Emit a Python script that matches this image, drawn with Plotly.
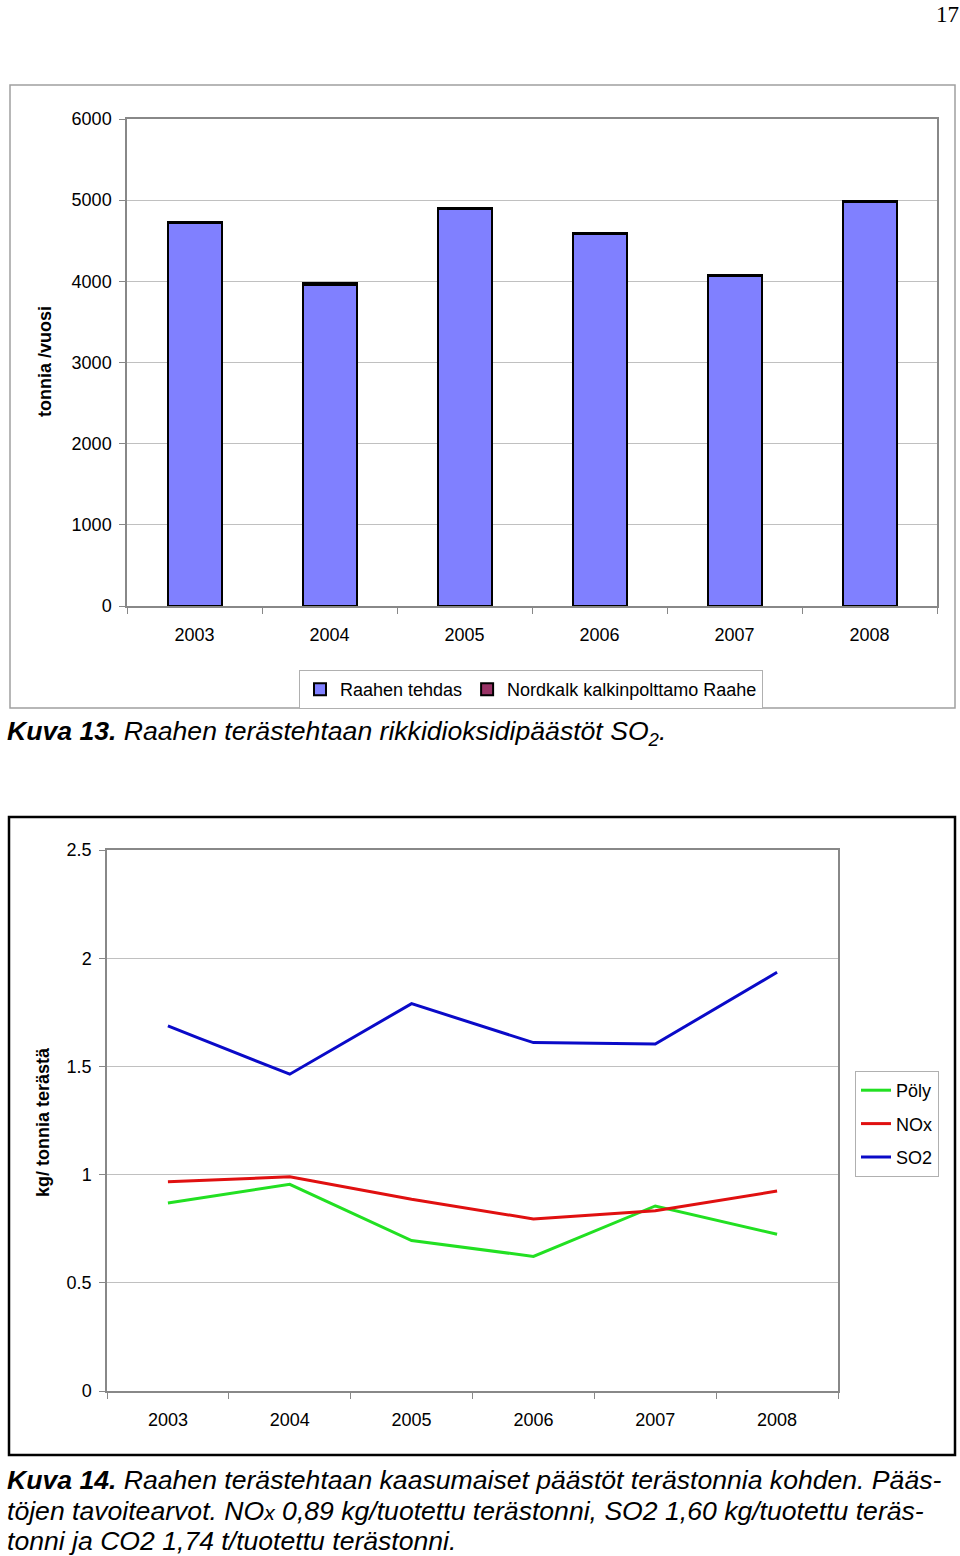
import plotly.graph_objects as go

W, H = 960, 1556

years = ["2003", "2004", "2005", "2006", "2007", "2008"]
raahen_tehdas = [4720, 3960, 4890, 4580, 4070, 4980]
nordkalk = [12, 15, 14, 13, 11, 14]

poly = [0.869, 0.955, 0.695, 0.622, 0.855, 0.724]
nox = [0.967, 0.990, 0.886, 0.795, 0.833, 0.924]
so2 = [1.687, 1.464, 1.790, 1.610, 1.603, 1.935]

FONT = "Liberation Sans, Arial, sans-serif"
NARROW = "Liberation Sans Narrow, Arial Narrow, Liberation Sans, Arial, sans-serif"


def px(x):
    return x / W


def py(y):
    return 1 - y / H


fig = go.Figure()

fig.add_trace(go.Bar(x=years, y=raahen_tehdas, name="Raahen tehdas",
                     marker=dict(color="#8080ff", line=dict(color="black", width=2)),
                     xaxis="x", yaxis="y", legend="legend"))
fig.add_trace(go.Bar(x=years, y=nordkalk, name="Nordkalk kalkinpolttamo Raahe",
                     marker=dict(color="#993366", line=dict(color="black", width=2)),
                     xaxis="x", yaxis="y", legend="legend"))

fig.add_trace(go.Scatter(x=years, y=poly, name="Pöly", mode="lines",
                         line=dict(color="#22e022", width=3), xaxis="x2", yaxis="y2",
                         legend="legend2", legendgroup="a"))
fig.add_trace(go.Scatter(x=years, y=nox, name="NOx", mode="lines",
                         line=dict(color="#e01010", width=3), xaxis="x2", yaxis="y2",
                         legend="legend2", legendgroup="b"))
fig.add_trace(go.Scatter(x=years, y=so2, name="SO2", mode="lines",
                         line=dict(color="#0a0ac8", width=3), xaxis="x2", yaxis="y2",
                         legend="legend2", legendgroup="c"))

axis_common = dict(showline=True, linecolor="#888888", linewidth=1.5, mirror=True,
                   automargin=False,
                   tickfont=dict(family=FONT, size=18, color="black"))

fig.update_layout(
    template="none",
    width=W, height=H, autosize=False,
    margin=dict(l=0, r=0, t=0, b=0, pad=0, autoexpand=False),
    paper_bgcolor="white", plot_bgcolor="white",
    barmode="stack", bargap=0.6,
    showlegend=True,
    xaxis=dict(domain=[px(127), px(937)], anchor="y", type="category", range=[-0.5, 5.5],
               ticks="outside", tickson="boundaries", ticklen=6, tickcolor="#888888",
               ticklabelstandoff=12, showgrid=False, **axis_common),
    yaxis=dict(domain=[py(606), py(119)], anchor="x", range=[0, 6000], dtick=1000,
               tickformat="d", showgrid=True, gridcolor="#c0c0c0", gridwidth=1,
               ticks="outside", ticklen=6, tickcolor="#888888", zeroline=False,
               ticklabelstandoff=4, **axis_common),
    xaxis2=dict(domain=[px(107), px(838)], anchor="y2", type="category", range=[-0.5, 5.5],
                ticks="outside", tickson="boundaries", ticklen=6, tickcolor="#888888",
                ticklabelstandoff=12, showgrid=False, **axis_common),
    yaxis2=dict(domain=[py(1391), py(850)], anchor="x2", range=[0, 2.5], dtick=0.5,
                showgrid=True, gridcolor="#c0c0c0", gridwidth=1,
                ticks="outside", ticklen=6, tickcolor="#888888", zeroline=False,
                ticklabelstandoff=4, **axis_common),
    legend=dict(orientation="h", x=px(531), y=py(670), xanchor="center", yanchor="top",
                traceorder="normal",
                bordercolor="#b0b0b0", borderwidth=1, bgcolor="white",
                font=dict(family=FONT, size=18, color="black")),
    legend2=dict(orientation="v", x=px(855), y=py(1071), xanchor="left", yanchor="top",
                 traceorder="grouped",
                 bordercolor="#b0b0b0", borderwidth=1, bgcolor="white", tracegroupgap=7,
                 font=dict(family=FONT, size=18, color="black")),
)

shapes = [
    dict(type="rect", xref="paper", yref="paper", x0=px(10), x1=px(955), y0=py(708), y1=py(85),
         line=dict(color="#a0a0a0", width=1.5), layer="below"),
    dict(type="rect", xref="paper", yref="paper", x0=px(9), x1=px(955), y0=py(1455), y1=py(817),
         line=dict(color="black", width=2.5), layer="below"),
]
fig.update_layout(shapes=shapes)

ann = []
ann.append(dict(text="17", x=px(947), y=py(14), xref="paper", yref="paper", showarrow=False,
                xanchor="center", yanchor="middle",
                font=dict(family="Liberation Serif, Times New Roman, serif", size=23, color="black")))
ann.append(dict(text="<b>tonnia /vuosi</b>", x=px(45), y=py(362), xref="paper", yref="paper",
                xanchor="center", yanchor="middle",
                showarrow=False, textangle=-90, font=dict(family=FONT, size=18, color="black")))
ann.append(dict(text="<b>kg/ tonnia terästä</b>", x=px(43), y=py(1122), xref="paper", yref="paper",
                xanchor="center", yanchor="middle",
                showarrow=False, textangle=-90, font=dict(family=FONT, size=18, color="black")))

cap_font = dict(family=NARROW, size=26.6, color="black")
ann.append(dict(text="<b><i>Kuva 13.</i></b><i> Raahen terästehtaan rikkidioksidipäästöt SO<sub>2</sub>.</i>",
                x=px(5), y=py(733), xref="paper", yref="paper", xanchor="left", yanchor="middle",
                showarrow=False, font=cap_font))
cap_lines = [
    "<b><i>Kuva 14.</i></b><i> Raahen terästehtaan kaasumaiset päästöt terästonnia kohden. Pääs-</i>",
    "<i>töjen tavoitearvot. NO<span style='font-size:21px'>x</span> 0,89 kg/tuotettu terästonni, SO2 1,60 kg/tuotettu teräs-</i>",
    "<i>tonni ja CO2 1,74 t/tuotettu terästonni.</i>",
]
for t, yy in zip(cap_lines, [1480, 1511, 1541]):
    ann.append(dict(text=t, x=px(5), y=py(yy), xref="paper", yref="paper", xanchor="left",
                    yanchor="middle", showarrow=False, font=cap_font))
fig.update_layout(annotations=ann)

fig.write_html("out.html", config={"responsive": False, "displayModeBar": False},
               post_script="document.body.style.margin='0';document.body.style.overflow='hidden';")
